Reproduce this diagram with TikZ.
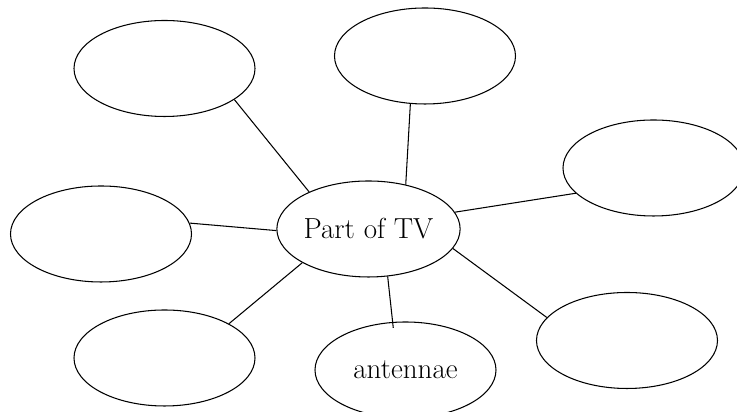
\documentclass[tikz,border=0pt]{standalone}
\usepackage{xcolor}
\usepackage{tikz}
\usetikzlibrary{shapes.geometric}

\begin{document}
\begin{tikzpicture}[
    partbubble/.style={draw,ellipse,line width=0.6pt,minimum width=3.62cm,minimum height=1.92cm,inner sep=0pt,font=\fontsize{16.5}{20}\selectfont},
    link/.style={line width=0.6pt}
  ]
    \useasboundingbox (0,0) rectangle (14.74,8.24);
    \node[partbubble] (tv) at (7.37,3.66) {Part of TV};
    \node[partbubble] (tl) at (3.29,6.87) {};
    \node[partbubble] (tm) at (8.50,7.12) {};
    \node[partbubble] (rt) at (13.07,4.88) {};
    \node[partbubble] (lf) at (2.02,3.56) {};
    \node[partbubble] (bl) at (3.29,1.08) {};
    \node[partbubble] (an) at (8.11,0.84) {antennae};
    \node[partbubble] (br) at (12.54,1.43) {};
    \draw[link] (tl.-24) -- (tv.148);
    \draw[link] (tm.-107) -- (tv.50);
    \draw[link] (rt.198) -- (tv.11);
    \draw[link] (lf.7) -- (tv.181);
    \draw[link] (bl.28) -- (tv.207);
    \draw[link,shorten >=-0.12cm] (tv.-68) -- (an.105);
    \draw[link] (tv.-13) -- (br.164);
  \end{tikzpicture}
\end{document}
